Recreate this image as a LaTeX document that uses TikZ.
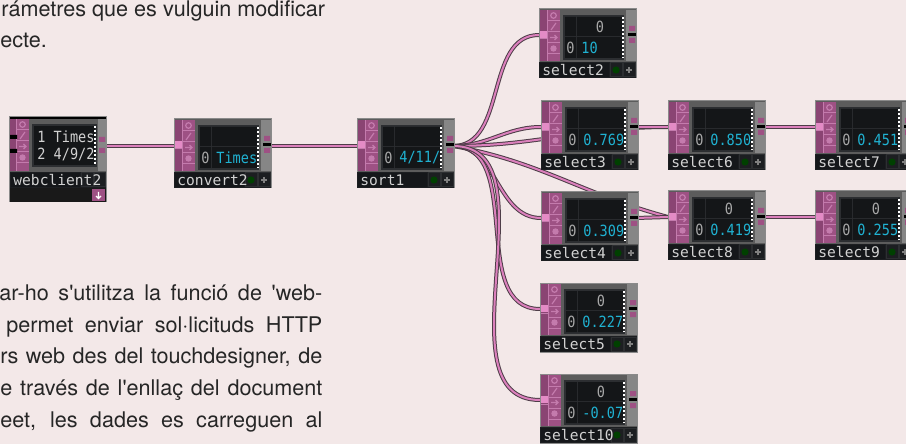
\documentclass[tikz,border=0pt]{standalone}
\usepackage{fontspec}
\setmainfont{TeX Gyre Heros}[Ligatures=TeXOff]
\newfontfamily\tdlabelfont{DejaVu Sans Mono}
\newfontfamily\tdvalfont[FakeStretch=0.88]{DejaVu Sans Mono}

\definecolor{pagebg}{HTML}{F3E8E8}
\definecolor{tdbody}{HTML}{5C5C5C}
\definecolor{tdedge}{HTML}{8A8A8A}
\definecolor{tdpink}{HTML}{9E5184}
\definecolor{tdpinkdk}{HTML}{8A4473}
\definecolor{tdpinkln}{HTML}{C47BAD}
\definecolor{tdpinkhi}{HTML}{E48BC6}
\definecolor{tdview}{HTML}{2C2E31}
\definecolor{tdcell}{HTML}{141618}
\definecolor{tdside}{HTML}{868686}
\definecolor{tdbar}{HTML}{1C1E21}
\definecolor{tdname}{HTML}{15171A}
\definecolor{tdtext}{HTML}{D2D2D2}
\definecolor{tdgrey}{HTML}{A8A8A8}
\definecolor{tdcyan}{HTML}{20B2D2}
\definecolor{wirepink}{HTML}{DB80BC}
\definecolor{wireedge}{HTML}{4E3D48}

\tikzset{
  tdbox/.style={rectangle,minimum width=48.5pt,minimum height=34.5pt,
    inner sep=0pt,fill=tdbody,draw=tdedge,line width=.5pt},
  tdlabel/.style={anchor=west,inner sep=0pt,text=tdtext,
    font=\tdlabelfont\fontsize{7.3}{8}\selectfont},
  tdval/.style={inner sep=0pt,font=\tdvalfont\fontsize{7.7}{8}\selectfont},
  tdicon/.style={draw=tdpinkln,line width=.6pt},
  wire/.style={draw=wirepink,line width=1pt,
    preaction={draw=wireedge,line width=2pt}},
  bodytext/.style={anchor=base west,inner sep=0pt,text=black!85,
    font=\fontsize{10.8}{15.5}\selectfont},
}

% one operator tile: name, x, y, label, top value, value
\newcommand\tdtile[6]{%
\begin{scope}[shift={(#2,#3)}]
  \node[tdbox] (#1) at (48.5,34.5) {};
  \fill[tdpink] (1,1) rectangle (21,52);
  \fill[tdpinkdk] (1,1) rectangle (8,52);
  \fill[tdpinkhi] (1,22) rectangle (8,29);
  \draw[tdpinkln,line width=.5pt] (8,1) -- (8,52) (8,12) -- (21,12) (8,23) -- (21,23)
    (8,34) -- (21,34) (8,45) -- (21,45) (1,30) -- (8,30);
  \draw[tdicon] (14.5,6.5) circle (1.4pt);
  \draw[tdicon] (12,21) -- (17,14);
  \draw[tdicon] (11,28.5) -- (18,28.5) (15.5,26) -- (18,28.5) -- (15.5,31);
  \fill[tdpinkln] (14.5,39.5) circle (1.6pt);
  \fill[tdview] (24,6) rectangle (85,51);
  \fill[tdcell] (26,8) rectangle (37,27) (38,8) rectangle (83,27)
    (26,28) rectangle (37,49) (38,28) rectangle (83,49);
  \draw[white,line width=1pt,dash pattern=on 1pt off 1pt] (83.5,8) -- (83.5,49);
  \fill[tdside] (87,1) rectangle (96.5,52);
  \fill[tdpink] (90,17) rectangle (96,22) (90,29) rectangle (96,34);
  \fill[black] (89,24) rectangle (97,27);
  \fill[tdbar] (0,53) rectangle (97,69);
  \fill[tdname] (1,54) rectangle (70,68);
  \draw[tdview,line width=.5pt] (71,54) rectangle (83,68) (84,54) rectangle (96,68);
  \fill[green!25!black] (77,61) circle (1.8pt);
  \draw[gray,line width=.6pt] (87,61) -- (93,61) (90,58) -- (90,64);
  \node[tdlabel] at (3,61.5) {#4};
  \node[tdval,text=tdgrey] at (61,18) {#5};
  \node[tdval,text=tdgrey] at (31.5,39) {0};
  \node[tdval,text=tdcyan,anchor=west] at (42,39) {#6};
  \coordinate (#1-in) at (1,26);
  \coordinate (#1-out) at (97,27);
\end{scope}}

\begin{document}
\begin{tikzpicture}[x=0.5pt,y=-0.5pt]
  \useasboundingbox (0,0) rectangle (906,444);
  \fill[pagebg] (0,0) rectangle (906,444);
  \clip (0,0) rectangle (906,444);

  \node[bodytext] (t1) at (1,17) {rámetres que es vulguin modificar};
  \node[bodytext] (t2) at (0,48) {ecte.};
  \node[bodytext] (p1) at (-1,300) {\makebox[161.5pt][s]{ar-ho s'utilitza la funció de 'web-}};
  \node[bodytext] (p2) at (6,332) {\makebox[158pt][s]{permet enviar sol·licituds HTTP}};
  \node[bodytext] (p3) at (0,363) {\makebox[161pt][s]{rs web des del touchdesigner, de}};
  \node[bodytext] (p4) at (0,395) {\makebox[161pt][s]{e través de l'enllaç del document}};
  \node[bodytext] (p5) at (0,427) {\makebox[161pt][s]{eet, les dades es carreguen al}};

  % wires
  \coordinate (wc-out) at (106,146);
  \coordinate (convert2-in) at (174,146);
  \coordinate (convert2-out) at (271,146);
  \coordinate (sort1-in) at (357,146);
  \coordinate (sort1-out) at (453,146);
  \coordinate (select2-in) at (539,35);
  \coordinate (select3-in) at (541,127);
  \coordinate (select4-in) at (541,218);
  \coordinate (select5-in) at (540,309);
  \coordinate (select10-in) at (540,400);
  \coordinate (select6-in) at (668,127);
  \coordinate (select8-in) at (668,217);
  \coordinate (select7-in) at (815,127);
  \coordinate (select9-in) at (815,217);
  \draw[wire] (wc-out) -- (convert2-in);
  \draw[wire] (convert2-out) -- (sort1-in);
  \draw[wire] (sort1-out) to[out=0,in=180] (select2-in);
  \draw[wire] (sort1-out) to[out=0,in=180] (select3-in);
  \draw[wire] (sort1-out) to[out=0,in=180] (select6-in);
  \draw[wire] (sort1-out) to[out=-10,in=165] (select8-in);
  \draw[wire] (sort1-out) to[out=0,in=180] (select4-in);
  \draw[wire] (sort1-out) to[out=0,in=180] (select5-in);
  \draw[wire] (sort1-out) to[out=0,in=180] (select10-in);
  \draw[wire] (636,127) -- (select6-in);
  \draw[wire] (636,218) -- (select8-in);
  \draw[wire] (764,127) -- (select7-in);
  \draw[wire] (764,217) -- (select9-in);

  \tdtile{convert2}{174}{119}{convert2}{}{Times}
  \tdtile{sort1}{357}{119}{sort1}{}{4/11/}
  \tdtile{select2}{539}{9}{select2}{0}{10}
  \tdtile{select3}{541}{101}{select3}{}{0.769}
  \tdtile{select6}{668}{101}{select6}{}{0.850}
  \tdtile{select7}{815}{101}{select7}{}{0.451}
  \tdtile{select4}{541}{192}{select4}{}{0.309}
  \tdtile{select8}{668}{191}{select8}{0}{0.419}
  \tdtile{select9}{815}{191}{select9}{0}{0.255}
  \tdtile{select5}{540}{283}{select5}{0}{0.227}
  \tdtile{select10}{540}{374}{select10}{0}{-0.07}

  % webclient tile
  \begin{scope}[shift={(10,117)}]
    \node[tdbox,minimum height=42.5pt] (webclient2) at (48,42.5) {};
    \fill[black] (0,0) rectangle (96,2);
    \fill[tdpink] (0,2) rectangle (19,54);
    \fill[tdpinkdk] (0,2) rectangle (6,54);
    \draw[tdpinkln,line width=.5pt] (6,2) -- (6,54) (6,13) -- (19,13) (6,24) -- (19,24)
      (6,35) -- (19,35) (6,46) -- (19,46);
    \fill[black] (0,18) rectangle (7,22) (0,32) rectangle (7,36);
    \draw[tdicon] (12.5,7.5) circle (1.4pt);
    \draw[tdicon] (10,22) -- (15,15);
    \draw[tdicon] (9,29.5) -- (16,29.5) (13.5,27) -- (16,29.5) -- (13.5,32);
    \fill[tdpinkln] (12.5,40.5) circle (1.6pt);
    \fill[tdview] (22,7) rectangle (87,50);
    \fill[tdcell] (24,9) rectangle (85,48);
    \draw[white,line width=1pt,dash pattern=on 1pt off 1pt] (85,9) -- (85,48);
    \fill[tdside] (88,2) rectangle (96,54);
    \fill[tdpink] (89,20) rectangle (95,25) (89,31) rectangle (95,36);
    \node[tdval,text=tdtext,anchor=west] at (27,20) {1 Times};
    \node[tdval,text=tdtext,anchor=west] at (27,38) {2 4/9/2};
    \fill[tdbar] (0,55) rectangle (96,71);
    \fill[tdname] (1,56) rectangle (70,70);
    \draw[tdview,line width=.5pt] (71,56) rectangle (83,70) (84,56) rectangle (95,70);
    \node[tdlabel] at (3,63.5) {webclient2};
    \fill[black!90] (0,71) rectangle (96,85);
    \fill[tdpink] (82,72) rectangle (95,84);
    \draw[white,line width=.6pt] (88.5,75) -- (88.5,81) (86,79) -- (88.5,81.5) -- (91,79);
  \end{scope}
\end{tikzpicture}
\end{document}
